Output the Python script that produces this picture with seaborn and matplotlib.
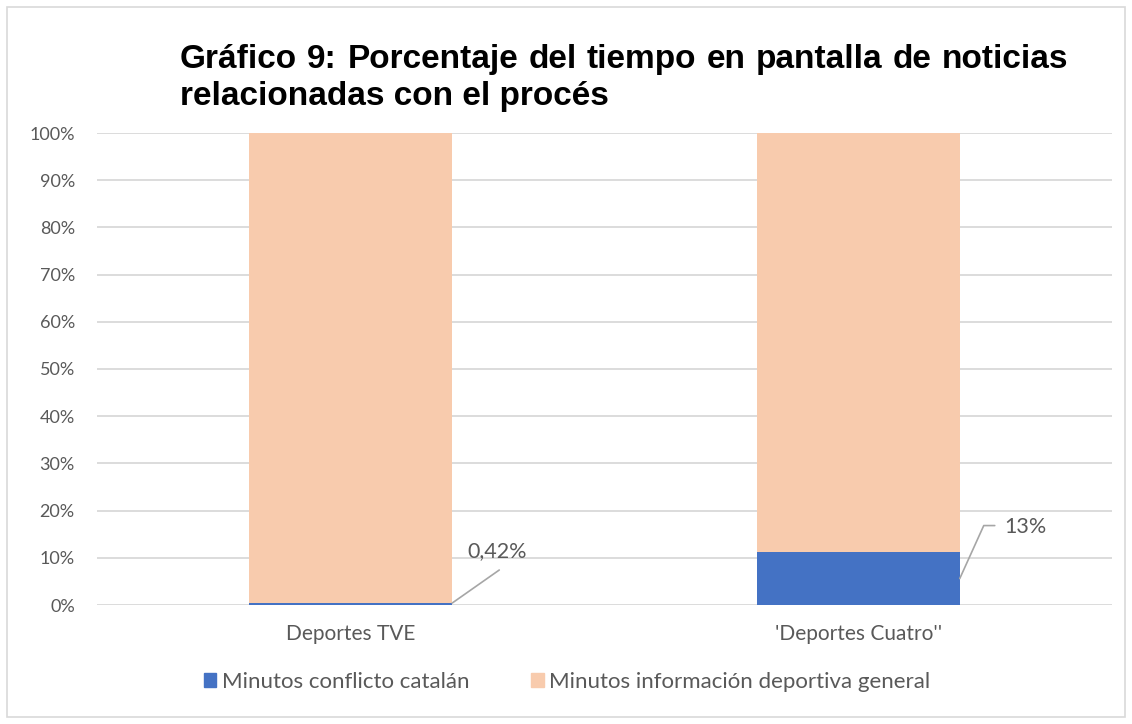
import numpy as np
import pandas as pd
import matplotlib
matplotlib.use("Agg")
import matplotlib.pyplot as plt
import seaborn as sns
from matplotlib.patches import Rectangle, Patch
from matplotlib.lines import Line2D

# data
programas = ["Deportes TVE", "'Deportes Cuatro''"]
conflicto = [0.42, 11.2]          # % minutos conflicto catalán
total = [100, 100]
etiquetas = ["0,42%", "13%"]
series = ["Minutos conflicto catalán", "Minutos información deportiva general"]
titulo = ["Gráfico 9: Porcentaje del tiempo en pantalla de noticias",
          "relacionadas con el procés"]

azul = "#4472C4"
salmon = "#F8CBAD"
gris = "#595959"
W, H = 1132, 724

sns.set_style("white")
plt.rcParams['font.family'] = ['Lato', 'DejaVu Sans']

df = pd.DataFrame({"programa": programas, "conflicto": conflicto, "total": total})

fig = plt.figure(figsize=(W / 100, H / 100), dpi=100)
ax = fig.add_axes([97 / W, 1 - 605 / H, 1015 / W, 472 / H])

sns.barplot(data=df, x="programa", y="total", color=salmon, width=0.4,
            linewidth=0, saturation=1, ax=ax, zorder=2)
sns.barplot(data=df, x="programa", y="conflicto", color=azul, width=0.4,
            linewidth=0, saturation=1, ax=ax, zorder=3)

ax.set_ylim(0, 100)
ax.set_xlim(-0.5, 1.5)
ax.set_yticks(np.arange(0, 101, 10))
ax.set_yticklabels([f"{v}%" for v in range(0, 101, 10)])
ax.yaxis.grid(True, color="#D9D9D9", linewidth=1.3, zorder=0)
ax.set_axisbelow(True)
ax.tick_params(axis="both", length=0, labelcolor=gris)
ax.tick_params(axis="y", pad=16, labelsize=13)
ax.tick_params(axis="x", pad=14, labelsize=15)
ax.set_xlabel("")
ax.set_ylabel("")
sns.despine(ax=ax, left=True, bottom=True, top=True, right=True)


def px(x, y):
    # data -> figure pixels (from top-left)
    dx, dy = ax.transData.transform((x, y))
    return dx, H - dy


def linea(pts):
    xs = [p[0] / W for p in pts]
    ys = [1 - p[1] / H for p in pts]
    fig.add_artist(Line2D(xs, ys, transform=fig.transFigure,
                          color="#A6A6A6", lw=1.2))


# data labels with leader lines
a0 = px(0.2, conflicto[0])
linea([a0, (a0[0] + 47, a0[1] - 33)])
fig.text((a0[0] + 45) / W, 1 - (a0[1] - 52) / H, etiquetas[0], ha="center",
         va="center", fontsize=15.5, color=gris)

a1 = px(1.2, conflicto[1] / 2)
linea([a1, (a1[0] + 24, a1[1] - 53), (a1[0] + 35, a1[1] - 53)])
fig.text((a1[0] + 45) / W, 1 - (a1[1] - 52) / H, etiquetas[1], ha="left",
         va="center", fontsize=15.5, color=gris)

# justified bold title
renderer = fig.canvas.get_renderer()
x0, x1 = 180 / W, 1068 / W
palabras = titulo[0].split(" ")
objs = [fig.text(0, 1 - 68 / H, w, fontsize=24, fontweight="bold", color="black",
                 family="Liberation Sans", va="baseline") for w in palabras]
anchos = [t.get_window_extent(renderer).width / W for t in objs]
hueco = (x1 - x0 - sum(anchos)) / (len(palabras) - 1)
x = x0
for t, w in zip(objs, anchos):
    t.set_x(x)
    x += w + hueco
fig.text(x0, 1 - 105 / H, titulo[1], fontsize=24, fontweight="bold", color="black",
         family="Liberation Sans", va="baseline")

# legend
handles = [Patch(color=azul, label=series[0]), Patch(color=salmon, label=series[1])]
leg = fig.legend(handles=handles, loc="center", ncol=2, frameon=False,
                 bbox_to_anchor=(567 / W, 1 - 682 / H), fontsize=16,
                 handlelength=0.55, handleheight=0.55, handletextpad=0.25,
                 columnspacing=2.8)
for t in leg.get_texts():
    t.set_color(gris)

# outer chart border
fig.patches.append(Rectangle((7 / W, 7 / H), 1118 / W, 710 / H,
                             transform=fig.transFigure, fill=False,
                             edgecolor="#D9D9D9", linewidth=1.2))

fig.savefig("out.png", dpi=100, facecolor="white")
